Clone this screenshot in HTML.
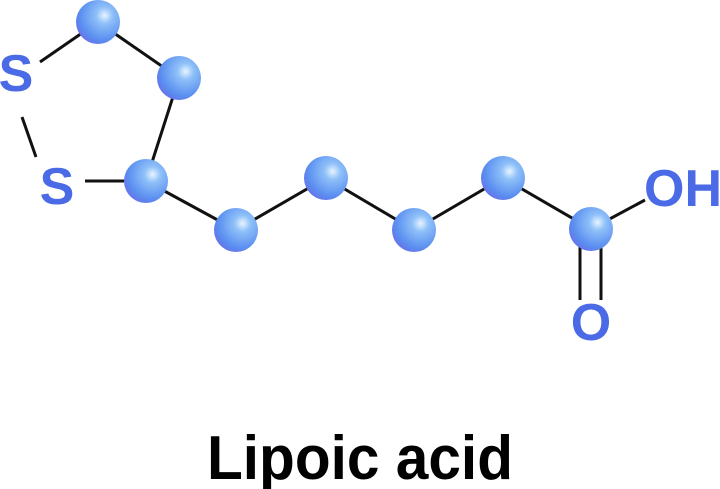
<!DOCTYPE html>
<html><head><style>body{margin:0;background:#fff}svg{display:block}</style></head><body>
<svg width="720" height="489" viewBox="0 0 720 489" xmlns="http://www.w3.org/2000/svg">
<defs><radialGradient id="g" cx="0.65" cy="0.35" r="0.75"><stop offset="0" stop-color="#e8f4ff"/><stop offset="0.25" stop-color="#8ec0f8"/><stop offset="0.75" stop-color="#5a8ef0"/><stop offset="1" stop-color="#6a6ee8"/></radialGradient></defs>
<g stroke="#111" stroke-width="3" fill="none">
<line x1="40" y1="62" x2="98" y2="22"/>
<line x1="22" y1="117" x2="36" y2="157"/>
<line x1="85" y1="181" x2="146" y2="181"/>
<line x1="98" y1="22" x2="179" y2="78"/>
<line x1="179" y1="78" x2="146" y2="181"/>
<polyline points="146,181 236,230 326,178 414,230 503,178 591,229 645,200"/>
<line x1="580" y1="240" x2="580" y2="300"/>
<line x1="601" y1="240" x2="601" y2="300"/>
</g>
<g fill="url(#g)">
<circle cx="98" cy="22" r="22"/><circle cx="179" cy="78" r="22"/><circle cx="146" cy="181" r="22"/>
<circle cx="236" cy="230" r="22"/><circle cx="326" cy="178" r="22"/><circle cx="414" cy="230" r="22"/>
<circle cx="503" cy="178" r="22"/><circle cx="591" cy="229" r="22"/>
</g>
<g fill="#4a6ae6" font-family="Liberation Sans, sans-serif" font-weight="bold" font-size="52" text-anchor="middle">
<text x="16" y="91">S</text><text x="57" y="204">S</text>
<text x="683" y="206">OH</text><text x="591" y="340">O</text>
</g>
<text x="207" y="479" textLength="306" lengthAdjust="spacingAndGlyphs" font-family="Liberation Sans, sans-serif" font-weight="bold" font-size="62" fill="#000">Lipoic acid</text>
</svg>
</body></html>
